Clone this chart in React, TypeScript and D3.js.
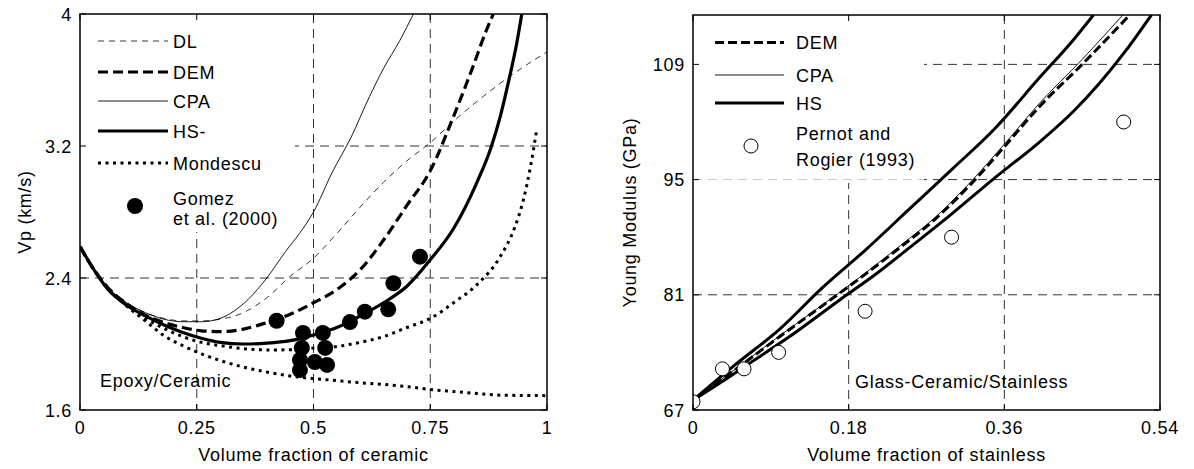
import React from 'react';
import * as d3 from 'd3';

type Pt = [number, number];

// ---- Left panel: Epoxy/Ceramic, P-wave velocity vs. volume fraction of ceramic ----
const ceramicTicks = [0, 0.25, 0.5, 0.75, 1];
const ceramicTickLabels = ['0', '0.25', '0.5', '0.75', '1'];
const vpTicks = [1.6, 2.4, 3.2, 4];
const vpTickLabels = ['1.6', '2.4', '3.2', '4'];

const vpDL: Pt[] = [
  [0, 2.59], [0.03, 2.45], [0.06, 2.34], [0.1, 2.25], [0.14, 2.19], [0.18, 2.155], [0.22, 2.14],
  [0.26, 2.14], [0.3, 2.15], [0.35, 2.19], [0.4, 2.28], [0.45, 2.41], [0.5, 2.52], [0.55, 2.67],
  [0.6, 2.83], [0.65, 2.98], [0.7, 3.11], [0.75, 3.22], [0.8, 3.35], [0.85, 3.47], [0.9, 3.58],
  [0.95, 3.68], [1.0, 3.77],
];
const vpDEM: Pt[] = [
  [0, 2.59], [0.03, 2.45], [0.06, 2.34], [0.1, 2.245], [0.14, 2.175], [0.18, 2.13], [0.22, 2.1],
  [0.26, 2.08], [0.3, 2.075], [0.35, 2.09], [0.4, 2.13], [0.45, 2.18], [0.5, 2.25], [0.55, 2.33],
  [0.6, 2.45], [0.65, 2.63], [0.7, 2.84], [0.75, 3.05], [0.8, 3.38], [0.84, 3.67], [0.87, 3.9],
  [0.885, 4.0],
];
const vpCPA: Pt[] = [
  [0, 2.59], [0.03, 2.45], [0.06, 2.34], [0.1, 2.25], [0.14, 2.19], [0.18, 2.15], [0.22, 2.135],
  [0.26, 2.135], [0.3, 2.155], [0.33, 2.2], [0.36, 2.27], [0.4, 2.4], [0.44, 2.56], [0.47, 2.67],
  [0.5, 2.8], [0.54, 3.04], [0.58, 3.25], [0.62, 3.5], [0.65, 3.67], [0.685, 3.84], [0.714, 4.0],
];
const vpHS: Pt[] = [
  [0, 2.59], [0.03, 2.45], [0.06, 2.33], [0.1, 2.235], [0.14, 2.17], [0.18, 2.115], [0.22, 2.07],
  [0.26, 2.035], [0.3, 2.01], [0.35, 2.0], [0.4, 2.005], [0.45, 2.02], [0.5, 2.055], [0.55, 2.1],
  [0.6, 2.17], [0.65, 2.25], [0.7, 2.35], [0.75, 2.51], [0.8, 2.7], [0.85, 2.98], [0.88, 3.19],
  [0.9, 3.38], [0.92, 3.62], [0.935, 3.82], [0.946, 4.0],
];
const vpMondescuUpper: Pt[] = [
  [0, 2.59], [0.03, 2.45], [0.06, 2.34], [0.1, 2.235], [0.14, 2.155], [0.18, 2.095], [0.22, 2.045],
  [0.26, 2.01], [0.3, 1.99], [0.35, 1.972], [0.4, 1.964], [0.45, 1.965], [0.5, 1.975], [0.55, 1.985],
  [0.6, 2.01], [0.65, 2.045], [0.7, 2.1], [0.75, 2.155], [0.8, 2.25], [0.85, 2.36], [0.9, 2.53],
  [0.93, 2.7], [0.95, 2.88], [0.965, 3.08], [0.978, 3.3],
];
const vpMondescuLower: Pt[] = [
  [0, 2.59], [0.03, 2.45], [0.06, 2.34], [0.1, 2.23], [0.14, 2.14], [0.18, 2.05], [0.22, 1.99],
  [0.26, 1.94], [0.3, 1.9], [0.35, 1.86], [0.4, 1.83], [0.45, 1.806], [0.5, 1.79], [0.55, 1.778],
  [0.6, 1.765], [0.65, 1.755], [0.7, 1.742], [0.75, 1.724], [0.8, 1.712], [0.85, 1.7], [0.9, 1.69],
  [0.95, 1.688], [1.0, 1.687],
];
const vpGomez: Pt[] = [
  [0.421, 2.141], [0.4775, 2.067], [0.52, 2.067], [0.475, 1.976], [0.525, 1.976], [0.471, 1.903],
  [0.471, 1.842], [0.503, 1.891], [0.529, 1.873], [0.578, 2.133], [0.61, 2.196], [0.66, 2.21],
  [0.671, 2.368], [0.728, 2.529],
];

// ---- Right panel: Glass-Ceramic/Stainless, Young modulus vs. volume fraction of stainless ----
const stainlessTicks = [0, 0.18, 0.36, 0.54];
const stainlessTickLabels = ['0', '0.18', '0.36', '0.54'];
const modulusTicks = [67, 81, 95, 109];
const modulusTickLabels = ['67', '81', '95', '109'];

const eDEM: Pt[] = [
  [0, 68.2], [0.05, 72.0], [0.1, 75.9], [0.15, 79.7], [0.18, 82.0], [0.24, 86.8], [0.28, 90.2],
  [0.32, 94.3], [0.36, 99.0], [0.4, 103.8], [0.45, 109.0], [0.505, 115],
];
const eCPA: Pt[] = [
  [0, 68.2], [0.05, 72.05], [0.1, 76.0], [0.15, 79.8], [0.18, 82.1], [0.24, 87.0], [0.28, 90.4],
  [0.32, 94.6], [0.36, 99.3], [0.4, 104.2], [0.45, 109.6], [0.497, 115],
];
const eHSUpper: Pt[] = [
  [0, 68.2], [0.05, 72.6], [0.1, 76.8], [0.15, 81.9], [0.2, 86.5], [0.25, 91.4], [0.3, 96.3],
  [0.35, 101.3], [0.4, 107.3], [0.44, 112], [0.463, 115],
];
const eHSLower: Pt[] = [
  [0, 68.2], [0.04, 70.9], [0.07, 73.0], [0.11, 75.8], [0.17, 80.4], [0.21, 83.4], [0.25, 86.7],
  [0.3, 90.9], [0.35, 95.3], [0.4, 99.5], [0.44, 103.3], [0.47, 106.7], [0.5, 110.6], [0.53, 115],
];
const ePernot: Pt[] = [
  [0, 68], [0.034, 72], [0.059, 72], [0.099, 74], [0.199, 79], [0.299, 88], [0.498, 102],
];

const FONT = '"Liberation Sans", Arial, sans-serif';
const FS = 18;
const LS = 0.7;

const vpX = d3.scaleLinear().domain([0, 1]).range([80, 547]);
const vpY = d3.scaleLinear().domain([1.6, 4]).range([410, 14]);
const eX = d3.scaleLinear().domain([0, 0.54]).range([693, 1160]);
const eY = d3.scaleLinear().domain([67, 115]).range([410, 15]);

type Scale = d3.ScaleLinear<number, number>;

function pathFor(data: Pt[], x: Scale, y: Scale) {
  return d3.line<Pt>().x((d) => x(d[0])).y((d) => y(d[1])).curve(d3.curveMonotoneX)(data) || '';
}

const txt = { fontFamily: FONT, fontSize: FS, letterSpacing: LS, fill: '#000' } as const;

type Style = { w: number; dash?: string; color?: string };
const THIN_DASH: Style = { w: 0.9, dash: '6,5', color: '#222' };
const THICK_DASH: Style = { w: 3.2, dash: '10,5' };
const THIN: Style = { w: 0.9 };
const THICK: Style = { w: 3.2 };
const DOTTED: Style = { w: 3, dash: '3,4.5' };
const GRID_DASH = '9,6';

function Frame({ x, y, xTicks, yTicks, xLabels, yLabels, gridX, gridY, legend, id, xTitle, yTitle, yTitleX, children }: any) {
  const [x0, x1] = x.range();
  const [y1, y0] = y.range();
  const tl = 6;
  return (
    <g>
      <defs>
        <clipPath id={id}>
          <rect x={x0} y={y0} width={x1 - x0} height={y1 - y0} />
        </clipPath>
      </defs>
      {/* dashed grid */}
      {gridX.map((v: number) => (
        <line key={'gx' + v} x1={x(v)} x2={x(v)} y1={y0} y2={y1} stroke="#333" strokeWidth={1} strokeDasharray={GRID_DASH} />
      ))}
      {gridY.map((v: number) => (
        <line key={'gy' + v} x1={x0} x2={x1} y1={y(v)} y2={y(v)} stroke="#333" strokeWidth={1} strokeDasharray={GRID_DASH} />
      ))}
      {/* legend background hides the grid underneath */}
      <rect x={x0} y={y0} width={legend.w} height={legend.h} fill="#fff" />
      {legend.faint != null && (
        <line
          x1={x0}
          x2={x0 + legend.w}
          y1={y(legend.faint)}
          y2={y(legend.faint)}
          stroke="#c8c8c8"
          strokeWidth={1}
          strokeDasharray={GRID_DASH}
        />
      )}
      <g clipPath={`url(#${id})`}>{children}</g>
      {/* frame and inward ticks */}
      <rect x={x0} y={y0} width={x1 - x0} height={y1 - y0} fill="none" stroke="#000" strokeWidth={1.5} />
      {xTicks.map((v: number) => (
        <g key={'tx' + v}>
          <line x1={x(v)} x2={x(v)} y1={y1} y2={y1 - tl} stroke="#000" />
          <line x1={x(v)} x2={x(v)} y1={y0} y2={y0 + tl} stroke="#000" />
        </g>
      ))}
      {yTicks.map((v: number) => (
        <g key={'ty' + v}>
          <line x1={x0} x2={x0 + tl} y1={y(v)} y2={y(v)} stroke="#000" />
          <line x1={x1} x2={x1 - tl} y1={y(v)} y2={y(v)} stroke="#000" />
        </g>
      ))}
      {xTicks.map((v: number, i: number) => (
        <text key={'lx' + v} x={x(v)} y={y1 + 24} textAnchor="middle" style={txt}>
          {xLabels[i]}
        </text>
      ))}
      {yTicks.map((v: number, i: number) => (
        <text key={'ly' + v} x={x0 - 8} y={y(v) + 6.5} textAnchor="end" style={txt}>
          {yLabels[i]}
        </text>
      ))}
      <text x={(x0 + x1) / 2} y={461} textAnchor="middle" style={txt}>
        {xTitle}
      </text>
      <text
        transform={`translate(${yTitleX},${(y0 + y1) / 2}) rotate(-90)`}
        textAnchor="middle"
        style={txt}
      >
        {yTitle}
      </text>
    </g>
  );
}

function LegendLine({ x1, x2, y, s, label, tx }: { x1: number; x2: number; y: number; s: Style; label: string; tx: number }) {
  return (
    <g>
      <line x1={x1} x2={x2} y1={y} y2={y} stroke={s.color || '#000'} strokeWidth={s.w} strokeDasharray={s.dash} />
      <text x={tx} y={y + 6.5} style={txt}>
        {label}
      </text>
    </g>
  );
}

function Curve({ data, x, y, s }: { data: Pt[]; x: Scale; y: Scale; s: Style }) {
  return (
    <path d={pathFor(data, x, y)} fill="none" stroke={s.color || '#000'} strokeWidth={s.w} strokeDasharray={s.dash} />
  );
}

export default function App() {
  return (
    <svg width={1194} height={469} style={{ position: 'absolute', left: 0, top: 0, background: '#fff' }}>
      <rect width={1194} height={469} fill="#fff" />

      <Frame
        id="clipVp"
        x={vpX}
        y={vpY}
        xTicks={ceramicTicks}
        yTicks={vpTicks}
        xLabels={ceramicTickLabels}
        yLabels={vpTickLabels}
        gridX={[0.25, 0.5, 0.75]}
        gridY={[2.4, 3.2]}
        legend={{ w: 215, h: 218 }}
        xTitle="Volume fraction of ceramic"
        yTitle="Vp (km/s)"
        yTitleX={31}
      >
        <Curve data={vpDL} x={vpX} y={vpY} s={THIN_DASH} />
        <Curve data={vpCPA} x={vpX} y={vpY} s={THIN} />
        <Curve data={vpMondescuUpper} x={vpX} y={vpY} s={DOTTED} />
        <Curve data={vpMondescuLower} x={vpX} y={vpY} s={DOTTED} />
        <Curve data={vpDEM} x={vpX} y={vpY} s={THICK_DASH} />
        <Curve data={vpHS} x={vpX} y={vpY} s={THICK} />
        {vpGomez.map((d, i) => (
          <circle key={i} cx={vpX(d[0])} cy={vpY(d[1])} r={8} fill="#000" />
        ))}
        <text x={100} y={387} style={txt}>
          Epoxy/Ceramic
        </text>
      </Frame>
      <g>
        <LegendLine x1={98} x2={168} y={41} s={THIN_DASH} label="DL" tx={173} />
        <LegendLine x1={98} x2={168} y={72} s={THICK_DASH} label="DEM" tx={173} />
        <LegendLine x1={98} x2={168} y={101} s={THIN} label="CPA" tx={173} />
        <LegendLine x1={98} x2={168} y={131} s={THICK} label="HS-" tx={173} />
        <LegendLine x1={98} x2={168} y={163} s={DOTTED} label="Mondescu" tx={173} />
        <circle cx={135} cy={206} r={8} fill="#000" />
        <text x={173} y={205} style={txt}>
          Gomez
        </text>
        <text x={173} y={225} style={txt}>
          et al. (2000)
        </text>
      </g>

      <Frame
        id="clipE"
        x={eX}
        y={eY}
        xTicks={stainlessTicks}
        yTicks={modulusTicks}
        xLabels={stainlessTickLabels}
        yLabels={modulusTickLabels}
        gridX={[0.18, 0.36]}
        gridY={[81, 95, 109]}
        legend={{ w: 231, h: 168, faint: 95 }}
        xTitle="Volume fraction of stainless"
        yTitle="Young Modulus (GPa)"
        yTitleX={636}
      >
        <Curve data={eCPA} x={eX} y={eY} s={THIN} />
        <Curve data={eDEM} x={eX} y={eY} s={{ w: 3, dash: '9,4' }} />
        <Curve data={eHSUpper} x={eX} y={eY} s={{ w: 3 }} />
        <Curve data={eHSLower} x={eX} y={eY} s={{ w: 3 }} />
        {ePernot.map((d, i) => (
          <circle key={i} cx={eX(d[0])} cy={eY(d[1])} r={7} fill="#fff" stroke="#000" strokeWidth={1} />
        ))}
        <text x={855} y={388} style={txt}>
          Glass-Ceramic/Stainless
        </text>
      </Frame>
      <g>
        <LegendLine x1={715} x2={784} y={42.5} s={{ w: 3, dash: '9,4' }} label="DEM" tx={796} />
        <LegendLine x1={715} x2={784} y={75} s={THIN} label="CPA" tx={796} />
        <LegendLine x1={715} x2={784} y={103} s={{ w: 3.2 }} label="HS" tx={796} />
        <circle cx={751} cy={146} r={7} fill="#fff" stroke="#000" strokeWidth={1} />
        <text x={796} y={140} style={txt}>
          Pernot and
        </text>
        <text x={796} y={166} style={txt}>
          Rogier (1993)
        </text>
      </g>
    </svg>
  );
}
